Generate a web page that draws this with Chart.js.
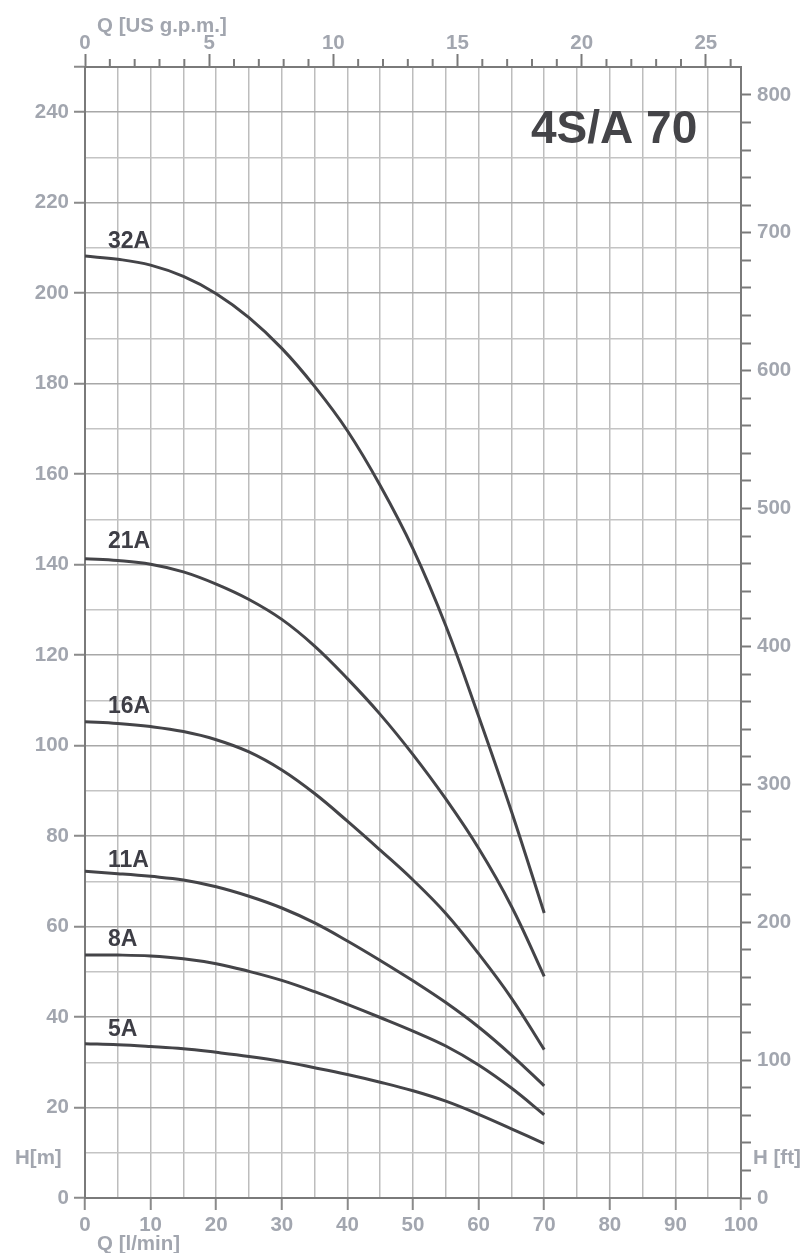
<!DOCTYPE html>
<html>
<head>
<meta charset="utf-8">
<script src="https://cdn.jsdelivr.net/npm/chart.js@4/dist/chart.umd.min.js"></script>
<style>
  html,body{margin:0;padding:0;background:#fff;}
  canvas{display:block;}
</style>
</head>
<body>
<canvas id="c" width="803" height="1253" style="width:803px;height:1253px"></canvas>
<script>
// ---- data ----
const flowLpm = [0, 5, 10, 15, 20, 25, 30, 35, 40, 45, 50, 55, 60, 65, 70];
const head32A = [208.2, 207.5, 206.2, 203.7, 199.9, 194.6, 187.8, 179.4, 169.6, 157.5, 143.5, 126.5, 106.5, 85.5, 63.0];
const head21A = [141.3, 140.9, 140.1, 138.4, 135.7, 132.3, 127.9, 122.0, 114.8, 106.9, 98.0, 88.2, 77.3, 64.5, 49.0];
const head16A = [105.3, 104.9, 104.2, 103.1, 101.3, 98.6, 94.6, 89.4, 83.3, 76.9, 70.3, 62.9, 54.0, 44.2, 32.8];
const head11A = [72.2, 71.7, 71.1, 70.3, 68.8, 66.7, 64.1, 60.8, 56.8, 52.5, 48.0, 43.2, 37.8, 31.6, 24.8];
const head8A  = [53.7, 53.7, 53.5, 52.9, 51.8, 50.1, 48.1, 45.6, 42.8, 39.9, 36.9, 33.6, 29.4, 24.3, 18.4];
const head5A  = [34.1, 33.9, 33.5, 33.0, 32.2, 31.3, 30.2, 28.8, 27.3, 25.6, 23.7, 21.4, 18.5, 15.3, 12.0];
const seriesNames = ['32A', '21A', '16A', '11A', '8A', '5A'];
const seriesHeads = [head32A, head21A, head16A, head11A, head8A, head5A];
// curve label anchors (flow l/min, head m)
const labelFlow = [3.5, 3.5, 3.5, 3.5, 3.5, 3.5];
const labelHead = [210.0, 143.6, 107.1, 73.1, 55.6, 35.7];
const chartTitle = '4S/A 70';
// right axis ticks (ft): every 20, labelled every 100
const ftTicks = [0, 20, 40, 60, 80, 100, 120, 140, 160, 180, 200, 220, 240, 260, 280, 300, 320, 340, 360, 380,
                 400, 420, 440, 460, 480, 500, 520, 540, 560, 580, 600, 620, 640, 660, 680, 700, 720, 740, 760, 780, 800];
// axis ranges / conversions
const qMax = 100, hMax = 250;
const LPM_PER_GPM = 3.785411784;
const FT_PER_M = 3.28084;

const FONT = "'Liberation Sans', Arial, Helvetica, sans-serif";
const TICK_COLOR = '#a2a6af';
const AXIS_COLOR = '#7a7a7a';
const isMult = (v, m) => Math.abs(v - Math.round(v / m) * m) < 1e-6;

const datasets = seriesNames.map((n, i) => ({
  label: n,
  data: flowLpm.map((q, k) => ({x: q, y: seriesHeads[i][k]})),
  showLine: true,
  borderColor: '#444448',
  borderWidth: 3,
  pointRadius: 0,
  fill: false,
  tension: 0.4
}));

const decor = {
  id: 'decor',
  afterDraw(chart) {
    const c = chart.ctx;
    const a = chart.chartArea;
    const sx = chart.scales.x, sy = chart.scales.y, sx2 = chart.scales.x2;
    c.save();
    // minor ticks on top (gpm) axis
    c.strokeStyle = AXIS_COLOR;
    c.lineWidth = 2;
    for (let v = 0; v <= 26; v++) {
      if (v % 5 === 0) continue;
      const px = sx2.getPixelForValue(v);
      c.beginPath();
      c.moveTo(px, a.top);
      c.lineTo(px, a.top - 8);
      c.stroke();
    }
    // curve labels
    c.fillStyle = '#3e3e46';
    c.font = 'bold 23px ' + FONT;
    c.textBaseline = 'alphabetic';
    c.textAlign = 'left';
    seriesNames.forEach((n, i) => {
      c.fillText(n, sx.getPixelForValue(labelFlow[i]), sy.getPixelForValue(labelHead[i]));
    });
    // title
    c.fillStyle = '#444448';
    c.font = 'bold 46px ' + FONT;
    c.fillText(chartTitle, 531, 143);
    // axis titles
    c.fillStyle = TICK_COLOR;
    c.font = 'bold 20.5px ' + FONT;
    c.fillText('Q [US g.p.m.]', 97, 32);
    c.fillText('Q [l/min]', 97, 1250);
    c.fillText('H[m]', 15, 1164);
    c.fillText('H [ft]', 753, 1164);
    c.restore();
  }
};

const tickFont = {family: FONT, size: 20.5, weight: 'bold'};

new Chart(document.getElementById('c'), {
  type: 'scatter',
  data: {datasets},
  plugins: [decor],
  options: {
    responsive: false,
    animation: false,
    devicePixelRatio: 1,
    layout: {padding: 0},
    plugins: {legend: {display: false}, tooltip: {enabled: false}},
    scales: {
      x: {
        type: 'linear', position: 'bottom', min: 0, max: qMax,
        afterFit(s) { s.height = 55; },
        border: {display: true, color: AXIS_COLOR, width: 2},
        grid: {
          color: '#bdbdbd', lineWidth: 1.5, tickLength: 12, tickWidth: 2,
          tickColor: ctx => (ctx.tick && isMult(ctx.tick.value, 10)) ? '#8a8a8a' : 'rgba(0,0,0,0)'
        },
        ticks: {
          stepSize: 5, autoSkip: false, maxRotation: 0, padding: 3,
          color: TICK_COLOR, font: tickFont,
          callback: v => (isMult(v, 10) ? String(Math.round(v)) : '')
        }
      },
      x2: {
        type: 'linear', position: 'top', min: 0, max: qMax / LPM_PER_GPM,
        afterFit(s) { s.height = 67; },
        border: {display: true, color: AXIS_COLOR, width: 2},
        grid: {
          drawOnChartArea: false, tickLength: 13, tickWidth: 2,
          tickColor: ctx => (ctx.tick && isMult(ctx.tick.value, 5)) ? AXIS_COLOR : 'rgba(0,0,0,0)'
        },
        ticks: {
          stepSize: 1, autoSkip: false, includeBounds: false, maxRotation: 0, padding: -2,
          color: TICK_COLOR, font: tickFont,
          callback: v => (isMult(v, 5) ? String(Math.round(v)) : '')
        }
      },
      y: {
        type: 'linear', position: 'left', min: 0, max: hMax,
        afterFit(s) { s.width = 85; },
        border: {display: true, color: AXIS_COLOR, width: 2},
        grid: {
          lineWidth: 1.5, tickLength: 11, tickWidth: 2,
          color: ctx => (ctx.tick && isMult(ctx.tick.value, 20)) ? '#a8a8a8' : '#c4c4c4',
          tickColor: ctx => (ctx.tick && (isMult(ctx.tick.value, 20) || ctx.tick.value === 250)) ? '#8a8a8a' : 'rgba(0,0,0,0)'
        },
        ticks: {
          stepSize: 10, autoSkip: false, padding: 5,
          color: TICK_COLOR, font: tickFont,
          callback: v => (isMult(v, 20) ? String(Math.round(v)) : '')
        }
      },
      y2: {
        type: 'linear', position: 'right', min: 0, max: hMax * FT_PER_M,
        afterFit(s) { s.width = 62; },
        afterBuildTicks(s) { s.ticks = ftTicks.map(v => ({value: v})); },
        border: {display: true, color: AXIS_COLOR, width: 2},
        grid: {drawOnChartArea: false, tickLength: 10, tickWidth: 2, tickColor: AXIS_COLOR},
        ticks: {
          autoSkip: false, padding: 6,
          color: TICK_COLOR, font: tickFont,
          callback: v => (isMult(v, 100) ? String(Math.round(v)) : '')
        }
      }
    }
  }
});
</script>
</body>
</html>
